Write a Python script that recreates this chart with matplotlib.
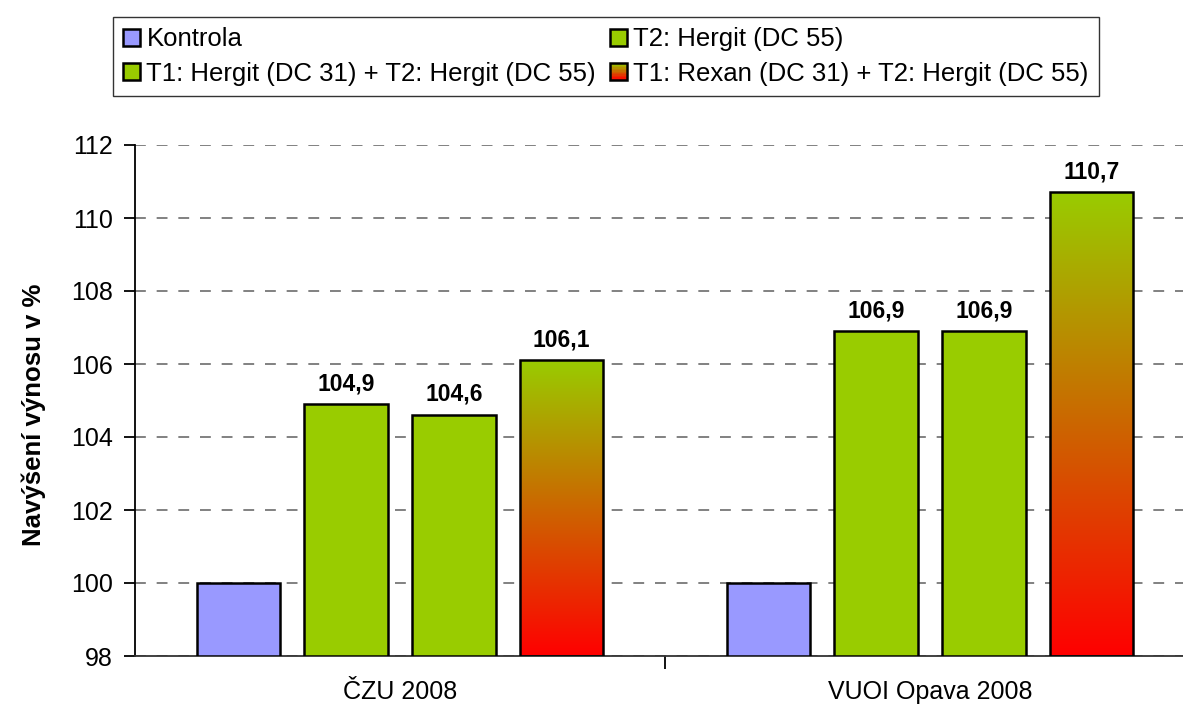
import numpy as np
import matplotlib
matplotlib.use("Agg")
import matplotlib.pyplot as plt
from matplotlib.patches import Rectangle
from matplotlib.legend_handler import HandlerBase
from matplotlib.colors import to_rgb

plt.rcParams['font.family'] = ['Liberation Sans', 'DejaVu Sans']

# data
categories = ['ČZU 2008', 'VUOI Opava 2008']
series = ['Kontrola', 'T2: Hergit (DC 55)',
          'T1: Hergit (DC 31) + T2: Hergit (DC 55)',
          'T1: Rexan (DC 31) + T2: Hergit (DC 55)']
values = [
    [100.0, 100.0],
    [104.9, 106.9],
    [104.6, 106.9],
    [106.1, 110.7],
]
labels = [
    [None, None],
    ['104,9', '106,9'],
    ['104,6', '106,9'],
    ['106,1', '110,7'],
]

BLUE = '#9999FF'
GREEN = '#99CC00'
RED = '#FF0000'
fills = [BLUE, GREEN, GREEN, 'gradient']

base = 98
width = 0.157
offsets = [-0.305, -0.102, 0.102, 0.305]


def grad_rgb(n):
    t = np.linspace(0, 1, n)[:, None]   # 0 bottom -> 1 top
    return (1 - t) * np.array(to_rgb(RED)) + t * np.array(to_rgb(GREEN))


fig = plt.figure(figsize=(11.83, 7.05), dpi=100)
ax = fig.add_axes([135 / 1183, 1 - 656 / 705, 1060 / 1183, 511 / 705])

x = np.arange(len(categories))
handles = []
for k, name in enumerate(series):
    fc = fills[k]
    bars = ax.bar(x + offsets[k], np.array(values[k]) - base, width, bottom=base,
                  color='none' if fc == 'gradient' else fc,
                  edgecolor='black', linewidth=1.8, zorder=3, label=name)
    if fc == 'gradient':
        for b in bars:
            x0, y0 = b.get_x(), b.get_y()
            img = grad_rgb(256)[::-1][:, None, :]
            im = ax.imshow(img, extent=(x0, x0 + b.get_width(), y0, y0 + b.get_height()),
                           aspect='auto', origin='upper', zorder=2.5, interpolation='bilinear')
            im.set_clip_path(b)
    handles.append(bars)
    for i, b in enumerate(bars):
        if labels[k][i]:
            ax.text(b.get_x() + b.get_width() / 2, b.get_y() + b.get_height() + 0.25,
                    labels[k][i], ha='center', va='bottom', fontsize=16.5,
                    fontweight='bold', zorder=4)

ax.set_xlim(-0.5, 1.5)
ax.set_ylim(98, 112)
ax.set_yticks(np.arange(98, 113, 2))
ax.yaxis.grid(True, color='#777777', linestyle=(0, (6, 6)), linewidth=1.3, zorder=0)
ax.set_axisbelow(True)
ax.tick_params(axis='y', labelsize=18, length=8, width=1.3, direction='out', pad=8)

ax.set_xticks([0.5])
ax.set_xticklabels([''])
ax.set_xticks(x, minor=True)
ax.set_xticklabels(categories, minor=True)
ax.tick_params(axis='x', which='major', length=9, width=1.3, direction='out')
ax.tick_params(axis='x', which='minor', length=0, labelsize=18, pad=17)

for s in ['top', 'right']:
    ax.spines[s].set_visible(False)
ax.spines['left'].set_linewidth(1.3)
ax.spines['bottom'].set_linewidth(1.3)
ax.spines['bottom'].set_color('#333333')

ax.set_ylabel('Navýšení výnosu v %', fontsize=18.5, fontweight='bold')
ax.yaxis.set_label_coords(-0.084, 0.472)


class GradientHandler(HandlerBase):
    def create_artists(self, legend, orig_handle, xdescent, ydescent, width, height,
                       fontsize, trans):
        n = 12
        cols = grad_rgb(n)
        arts = []
        for i in range(n):
            r = Rectangle((-xdescent, -ydescent + i * height / n), width, height / n + 0.3,
                          facecolor=cols[i], edgecolor='none', transform=trans)
            arts.append(r)
        arts.append(Rectangle((-xdescent, -ydescent), width, height, facecolor='none',
                              edgecolor='black', linewidth=1.8, transform=trans))
        return arts


order = [0, 2, 1, 3]
leg_handles = [handles[i] for i in order]
leg_labels = [series[i] for i in order]
leg = fig.legend(leg_handles, leg_labels, ncol=2, loc='upper left',
                 bbox_to_anchor=(113 / 1183, 1 - 17 / 705), fontsize=18.5,
                 frameon=True, fancybox=False, edgecolor='black',
                 handlelength=0.65, handleheight=0.65, handletextpad=0.25,
                 columnspacing=0.55, labelspacing=0.4, borderpad=0.4,
                 borderaxespad=0,
                 handler_map={handles[3]: GradientHandler()})
leg.get_frame().set_linewidth(1.0)

fig.savefig('out.png', dpi=100)
